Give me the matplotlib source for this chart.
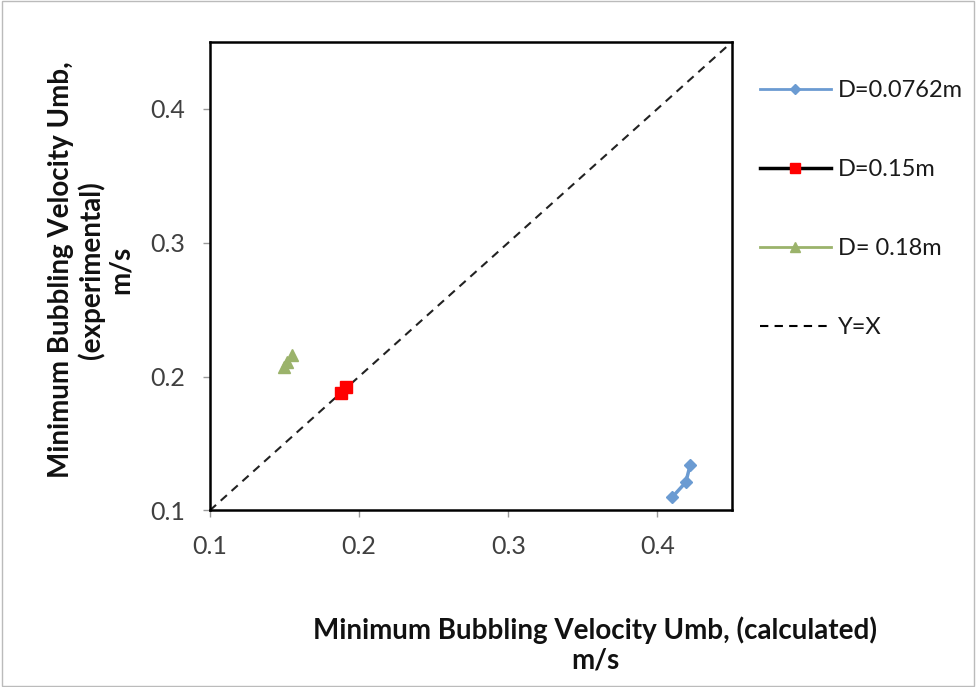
import matplotlib.pyplot as plt
from matplotlib.lines import Line2D

plt.rcParams['font.family'] = ['Lato', 'DejaVu Sans']

# data
x_d0762 = [0.410, 0.419, 0.422]
y_d0762 = [0.110, 0.121, 0.134]
x_d015 = [0.188, 0.191]
y_d015 = [0.188, 0.192]
x_d018 = [0.150, 0.152, 0.155]
y_d018 = [0.207, 0.211, 0.216]
ref_line = [0.1, 0.45]
ticks = [0.1, 0.2, 0.3, 0.4]

fig = plt.figure(figsize=(9.76, 6.87), dpi=100)
ax = fig.add_axes([0.215, 0.257, 0.535, 0.682])

blue = '#6b9bd2'
green = '#9bb36b'

ax.plot(ref_line, ref_line, ls='--', color='#222222', lw=1.5, dashes=(4, 3))
ax.plot(x_d0762, y_d0762, color=blue, lw=2.5, marker='D', ms=6)
ax.plot(x_d015, y_d015, color='black', lw=2.5, marker='s', ms=8,
        mfc='red', mec='red')
ax.plot(x_d018, y_d018, color=green, lw=2.5, marker='^', ms=9)

ax.set_xlim(0.1, 0.45)
ax.set_ylim(0.1, 0.45)
ax.set_xticks(ticks)
ax.set_yticks(ticks)
ax.set_xticklabels([f'{t:.1f}' for t in ticks])
ax.set_yticklabels([f'{t:.1f}' for t in ticks])
ax.tick_params(labelsize=18, labelcolor='#404040', length=5, width=1,
               color='#999999', pad=13)
for s in ax.spines.values():
    s.set_linewidth(1.8)
    s.set_color('black')

fig.text(0.610, 0.061, 'Minimum Bubbling Velocity Umb, (calculated)\nm/s',
         ha='center', va='center', fontsize=20, fontweight='bold',
         linespacing=1.15, color='#111111')
fig.text(0.093, 0.607, 'Minimum Bubbling Velocity Umb,\n(experimental)\nm/s',
         ha='center', va='center', rotation=90, fontsize=20,
         fontweight='bold', linespacing=1.15, color='#111111')

handles = [
    Line2D([], [], color=blue, lw=2, marker='D', ms=5),
    Line2D([], [], color='black', lw=2.5, marker='s', ms=7, mfc='red', mec='red'),
    Line2D([], [], color=green, lw=2, marker='^', ms=7),
    Line2D([], [], color='black', lw=1.5, ls='--', dashes=(4, 3)),
]
labels = ['D=0.0762m', 'D=0.15m', 'D= 0.18m', 'Y=X']
fig.legend(handles, labels, loc='upper left', bbox_to_anchor=(0.757, 0.914),
           frameon=False, fontsize=17, labelspacing=2.45, handlelength=3.0,
           handletextpad=0.3, labelcolor='#1a1a1a')

# outer chart border
fig.add_artist(plt.Rectangle((0.002, 0.002), 0.996, 0.996, fill=False,
                             transform=fig.transFigure, ec='#bbbbbb', lw=1))

fig.savefig('out.png', dpi=100)
